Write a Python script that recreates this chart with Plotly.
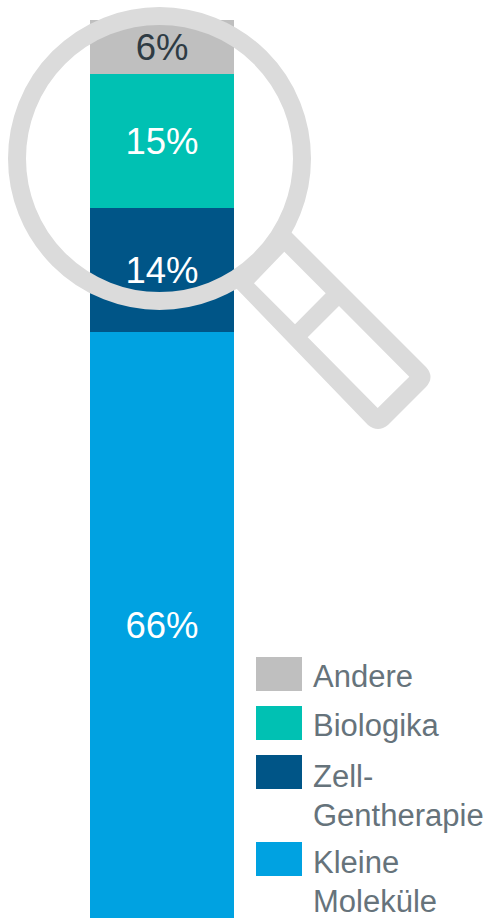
import plotly.graph_objects as go

categories = ["Kleine<br>Moleküle", "Zell-<br>Gentherapie", "Biologika", "Andere"]
values = [65.9, 13.95, 15.07, 6.07]
labels = ["66%", "14%", "15%", "6%"]
colors = ["#00A2E1", "#005587", "#00C1B3", "#BFBFBF"]
text_colors = ["#FFFFFF", "#FFFFFF", "#FFFFFF", "#2E3B44"]

W, H = 488, 918
PX_PER_UNIT = 898 / sum(values)
BAR_L, BAR_R = 90, 234


def fx(px):
    return px / W


def fy(py):
    return 1 - py / H


def path(*subpaths):
    out = []
    for sub in subpaths:
        parts = []
        for cmd, *pts in sub:
            coords = " ".join(f"{fx(pts[i]):.5f},{fy(pts[i + 1]):.5f}" for i in range(0, len(pts), 2))
            parts.append(f"{cmd}{coords}")
        out.append(" ".join(parts) + " Z")
    return " ".join(out)


fig = go.Figure()
for name, val, lab, col, tc in zip(categories, values, labels, colors, text_colors):
    fig.add_trace(go.Bar(
        x=[0], y=[val], name=name, width=1,
        marker=dict(color=col, line=dict(width=0)),
        text=[lab], textposition="inside", insidetextanchor="middle",
        textangle=0, constraintext="none",
        textfont=dict(family="Liberation Sans", size=36.5, color=tc),
        showlegend=False,
    ))

bw = BAR_R - BAR_L
cx = (BAR_L + BAR_R) / 2
shapes = []

# magnifier ring
ring_cx, ring_cy, ring_r = 159.5, 158.5, 142.5
shapes.append(dict(type="circle", xref="paper", yref="paper", layer="above",
                   x0=fx(ring_cx - ring_r), x1=fx(ring_cx + ring_r),
                   y0=fy(ring_cy + ring_r), y1=fy(ring_cy - ring_r),
                   fillcolor="rgba(0,0,0,0)", line=dict(color="#DBDBDB", width=18)))

# magnifier handle, with its two windows left open
outer = [("M", 290, 231), ("L", 426, 367), ("Q", 435, 377, 426, 387),
         ("L", 388, 425), ("Q", 378, 433, 368, 425), ("L", 233, 285)]
win1 = [("M", 284.3, 251.7), ("L", 325.7, 293.3), ("L", 295, 324.3), ("L", 254, 283.3)]
win2 = [("M", 339, 306), ("L", 409.3, 376.7), ("L", 377.7, 408), ("L", 307.7, 337.3)]
shapes.append(dict(type="path", xref="paper", yref="paper", layer="above",
                   path=path(outer, win1, win2), fillrule="evenodd",
                   fillcolor="#DBDBDB", line=dict(width=0)))

# legend
legend_swatch_tops = [657, 706, 755, 842]
legend_order = [3, 2, 1, 0]
legend_text_centers = [[676], [725], [776, 815], [862, 901]]
annotations = []
for top, idx, centers in zip(legend_swatch_tops, legend_order, legend_text_centers):
    shapes.append(dict(type="rect", xref="paper", yref="paper", layer="above",
                       x0=fx(256), x1=fx(302), y0=fy(top + 34), y1=fy(top),
                       fillcolor=colors[idx], line=dict(width=0)))
    for line, c in zip(categories[idx].split("<br>"), centers):
        annotations.append(dict(xref="paper", yref="paper", x=fx(311.5), y=fy(c),
                                xanchor="left", yanchor="middle", showarrow=False,
                                text=line, align="left",
                                font=dict(family="Liberation Sans", size=31, color="#66737B"),
                                borderpad=0))

fig.update_layout(
    width=W, height=H, autosize=False,
    margin=dict(l=0, r=0, t=0, b=0),
    barmode="stack", bargap=0,
    plot_bgcolor="white", paper_bgcolor="white",
    xaxis=dict(range=[(0 - cx) / bw, (W - cx) / bw], visible=False, fixedrange=True),
    yaxis=dict(range=[0, H / PX_PER_UNIT], visible=False, fixedrange=True),
    shapes=shapes, annotations=annotations,
)
fig.write_html("out.html", config={"displayModeBar": False},
               post_script="document.body.style.margin='0';document.documentElement.style.overflow='hidden';")
